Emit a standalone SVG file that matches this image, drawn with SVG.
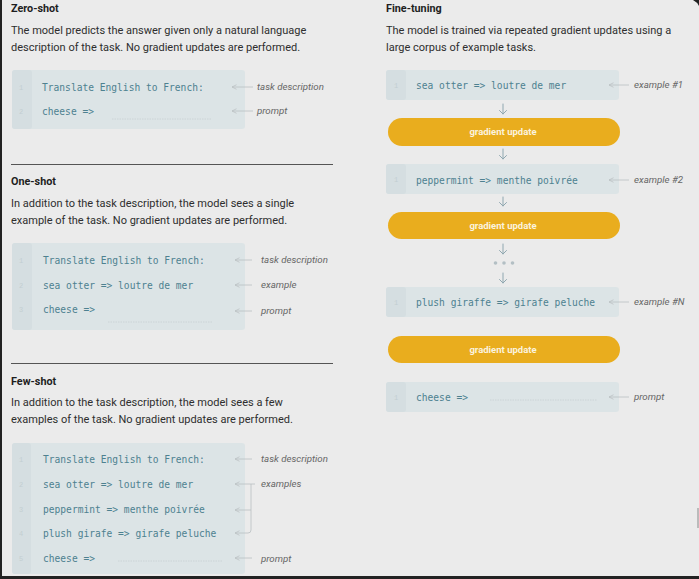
<svg xmlns="http://www.w3.org/2000/svg" width="699" height="579" viewBox="0 0 699 579">
<defs>
<style>
.bg{fill:#ebebeb}
.title{font-family:Roboto,"Liberation Sans",sans-serif;font-size:10.8px;font-weight:bold;fill:#1e1e1e}
.desc{font-family:Roboto,"Liberation Sans",sans-serif;font-size:11px;fill:#2e2e2e}
.box{fill:#dce4e6}
.gut{fill:#d5dee1}
.num{font-family:"Liberation Mono",monospace;font-size:7px;fill:#c3ced1;text-anchor:middle}
.code{font-family:"DejaVu Sans Mono","Liberation Mono",monospace;font-size:9.6px;fill:#4d8190}
.lbl{font-family:Roboto,"Liberation Sans",sans-serif;font-size:9.7px;font-style:italic;fill:#666}
.ptr{stroke:#b9bfc2;stroke-width:0.8;fill:none;marker-start:url(#ah)}
.dot{stroke:#c6cfd2;stroke-width:0.8;stroke-dasharray:1.5 1;fill:none}
.sep{stroke:#555;stroke-width:1}
.pill{fill:#e9ad1e}
.ptxt{font-family:Roboto,"Liberation Sans",sans-serif;font-size:9.5px;font-weight:bold;fill:#fbf3df;text-anchor:middle}
.down{stroke:#8fa7b0;stroke-width:1;fill:none;stroke-linecap:round;stroke-linejoin:round}
</style>
<marker id="ah" viewBox="0 0 8 8" refX="1" refY="4" markerWidth="6" markerHeight="6" orient="auto" markerUnits="userSpaceOnUse">
<path d="M7,1 L1,4 L7,7" fill="none" stroke="#b9bfc2" stroke-width="1"/>
</marker>
</defs>
<rect class="bg" x="0" y="0" width="699" height="579"/>

<g id="zero-shot">
<text class="title" x="11" y="12">Zero-shot</text>
<text class="desc" x="11" y="34">The model predicts the answer given only a natural language</text>
<text class="desc" x="11" y="51">description of the task. No gradient updates are performed.</text>
<rect class="box" x="12" y="70" width="233" height="59" rx="3"/>
<rect class="gut" x="12" y="70" width="20" height="59" rx="3"/>
<text class="num" x="21" y="90">1</text>
<text class="num" x="21" y="114">2</text>
<text class="code" x="42" y="91">Translate English to French:</text>
<text class="code" x="42" y="115">cheese =&gt;</text>
<line class="dot" x1="112" y1="119" x2="212" y2="119"/>
<line class="ptr" x1="232" y1="87" x2="253" y2="87"/>
<line class="ptr" x1="232" y1="111" x2="253" y2="111"/>
<text class="lbl" x="257" y="90">task description</text>
<text class="lbl" x="257" y="114">prompt</text>
</g>

<line class="sep" x1="11" y1="164.5" x2="333" y2="164.5"/>

<g id="one-shot">
<text class="title" x="11" y="185">One-shot</text>
<text class="desc" x="11" y="207">In addition to the task description, the model sees a single</text>
<text class="desc" x="11" y="224">example of the task. No gradient updates are performed.</text>
<rect class="box" x="12" y="243" width="233" height="87" rx="3"/>
<rect class="gut" x="12" y="243" width="20" height="87" rx="3"/>
<text class="num" x="21" y="263">1</text>
<text class="num" x="21" y="288">2</text>
<text class="num" x="21" y="312">3</text>
<text class="code" x="43" y="264">Translate English to French:</text>
<text class="code" x="43" y="289">sea otter =&gt; loutre de mer</text>
<text class="code" x="43" y="313">cheese =&gt;</text>
<line class="dot" x1="108" y1="322" x2="213" y2="322"/>
<line class="ptr" x1="235" y1="260" x2="252" y2="260"/>
<line class="ptr" x1="235" y1="285" x2="252" y2="285"/>
<line class="ptr" x1="235" y1="311" x2="252" y2="311"/>
<text class="lbl" x="261" y="263">task description</text>
<text class="lbl" x="261" y="288">example</text>
<text class="lbl" x="261" y="314">prompt</text>
</g>

<line class="sep" x1="11" y1="363.5" x2="333" y2="363.5"/>

<g id="few-shot">
<text class="title" x="11" y="385">Few-shot</text>
<text class="desc" x="11" y="406">In addition to the task description, the model sees a few</text>
<text class="desc" x="11" y="423">examples of the task. No gradient updates are performed.</text>
<rect class="box" x="12" y="443" width="233" height="131" rx="3"/>
<rect class="gut" x="12" y="443" width="19" height="131" rx="3"/>
<text class="num" x="21" y="462">1</text>
<text class="num" x="21" y="487">2</text>
<text class="num" x="21" y="512">3</text>
<text class="num" x="21" y="536">4</text>
<text class="num" x="21" y="561">5</text>
<text class="code" x="43" y="463">Translate English to French:</text>
<text class="code" x="43" y="488">sea otter =&gt; loutre de mer</text>
<text class="code" x="43" y="513">peppermint =&gt; menthe poivrée</text>
<text class="code" x="43" y="537">plush girafe =&gt; girafe peluche</text>
<text class="code" x="43" y="562">cheese =&gt;</text>
<line class="dot" x1="118" y1="561" x2="222" y2="561"/>
<line class="ptr" x1="235" y1="459" x2="252" y2="459"/>
<line class="ptr" x1="235" y1="484" x2="255" y2="484"/>
<line class="ptr" x1="235" y1="510" x2="251" y2="510"/>
<path class="ptr" d="M235,533 L248,533 Q251,533 251,530 L251,484"/>
<line class="ptr" x1="235" y1="558" x2="252" y2="558"/>
<text class="lbl" x="261" y="462">task description</text>
<text class="lbl" x="261" y="487">examples</text>
<text class="lbl" x="261" y="562">prompt</text>
</g>

<g id="fine-tuning">
<text class="title" x="386" y="12">Fine-tuning</text>
<text class="desc" x="386" y="34">The model is trained via repeated gradient updates using a</text>
<text class="desc" x="386" y="51">large corpus of example tasks.</text>
</g>

<g id="ex1">
<rect class="box" x="386" y="70" width="233" height="30" rx="3"/>
<rect class="gut" x="386" y="70" width="20" height="30" rx="3"/>
<text class="num" x="396" y="88">1</text>
<text class="code" x="416" y="89">sea otter =&gt; loutre de mer</text>
<line class="ptr" x1="609" y1="85" x2="629" y2="85"/>
<text class="lbl" x="634" y="88">example #1</text>
</g>
<g id="gu1">
<rect class="pill" x="388" y="118" width="232" height="28" rx="14"/>
<text class="ptxt" x="503" y="135">gradient update</text>
</g>
<g id="ex2">
<rect class="box" x="386" y="164" width="233" height="30" rx="3"/>
<rect class="gut" x="386" y="164" width="20" height="30" rx="3"/>
<text class="num" x="396" y="182">1</text>
<text class="code" x="416" y="184">peppermint =&gt; menthe poivrée</text>
<line class="ptr" x1="609" y1="180" x2="629" y2="180"/>
<text class="lbl" x="634" y="183">example #2</text>
</g>
<g id="gu2">
<rect class="pill" x="388" y="212" width="232" height="27" rx="13.5"/>
<text class="ptxt" x="503" y="229">gradient update</text>
</g>
<g id="exN">
<rect class="box" x="386" y="287" width="233" height="30" rx="3"/>
<rect class="gut" x="386" y="287" width="20" height="30" rx="3"/>
<text class="num" x="396" y="305">1</text>
<text class="code" x="416" y="306">plush giraffe =&gt; girafe peluche</text>
<line class="ptr" x1="609" y1="302" x2="629" y2="302"/>
<text class="lbl" x="634" y="305">example #N</text>
</g>
<g id="gu3">
<rect class="pill" x="388" y="336" width="232" height="27" rx="13.5"/>
<text class="ptxt" x="503" y="353">gradient update</text>
</g>
<g id="prompt">
<rect class="box" x="386" y="382" width="233" height="30" rx="3"/>
<rect class="gut" x="386" y="382" width="20" height="30" rx="3"/>
<text class="num" x="396" y="400">1</text>
<text class="code" x="416" y="401">cheese =&gt;</text>
<line class="dot" x1="490" y1="400" x2="597" y2="400"/>
<line class="ptr" x1="609" y1="397" x2="629" y2="397"/>
<text class="lbl" x="634" y="400">prompt</text>
</g>

<g id="connectors">
<path class="down" d="M503,104 V114 M499.5,110.5 L503,114 L506.5,110.5"/>
<path class="down" d="M503,149 V159 M499.5,155.5 L503,159 L506.5,155.5"/>
<path class="down" d="M503,197 V206 M499.5,202.5 L503,206 L506.5,202.5"/>
<path class="down" d="M503,244 V254 M499.5,250.5 L503,254 L506.5,250.5"/>
<circle cx="495.5" cy="263" r="1.8" fill="#b3bfc4"/>
<circle cx="504" cy="263" r="1.8" fill="#b3bfc4"/>
<circle cx="512.5" cy="263" r="1.8" fill="#b3bfc4"/>
<path class="down" d="M503,273 V283 M499.5,279.5 L503,283 L506.5,279.5"/>
</g>

<rect x="0" y="0" width="2" height="579" fill="#222"/>
<rect x="0" y="576" width="699" height="3" fill="#222"/>
<path d="M693,0 Q697,2 699,6 V0 Z" fill="#222"/>
<rect x="697" y="508" width="2" height="20" fill="#bbb"/>
</svg>
